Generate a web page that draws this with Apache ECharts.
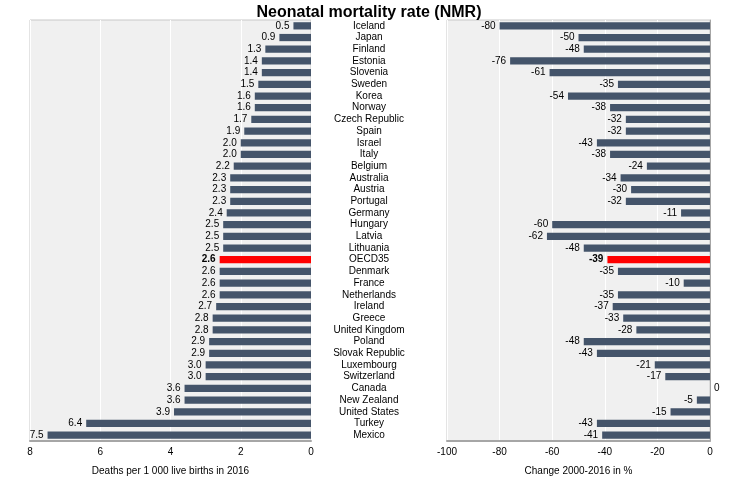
<!DOCTYPE html>
<html>
<head>
<meta charset="utf-8">
<script src="https://cdn.jsdelivr.net/npm/echarts@6/dist/echarts.min.js"></script>
<style>
html, body { margin: 0; padding: 0; background: #fff; }
#chart { width: 738px; height: 486px; }
</style>
</head>
<body>
<div id="chart"></div>
<script>
var countries = ['Iceland','Japan','Finland','Estonia','Slovenia','Sweden','Korea','Norway','Czech Republic','Spain',
	'Israel','Italy','Belgium','Australia','Austria','Portugal','Germany','Hungary','Latvia','Lithuania',
	'OECD35','Denmark','France','Netherlands','Ireland','Greece','United Kingdom','Poland','Slovak Republic','Luxembourg',
	'Switzerland','Canada','New Zealand','United States','Turkey','Mexico'];
var nmr2016 = [0.5,0.9,1.3,1.4,1.4,1.5,1.6,1.6,1.7,1.9,
	2.0,2.0,2.2,2.3,2.3,2.3,2.4,2.5,2.5,2.5,
	2.6,2.6,2.6,2.6,2.7,2.8,2.8,2.9,2.9,3.0,
	3.0,3.6,3.6,3.9,6.4,7.5];
var change2000_2016 = [-80,-50,-48,-76,-61,-35,-54,-38,-32,-32,
	-43,-38,-24,-34,-30,-32,-11,-60,-62,-48,
	-39,-35,-10,-35,-37,-33,-28,-48,-43,-21,
	-17,0,-5,-15,-43,-41];
var highlight = 'OECD35';

var barColor = '#44546a';
var redColor = '#ff0000';
var font = 'Liberation Sans, Arial, sans-serif';

function buildLeft(){
	return nmr2016.map(function(v, i){
		var hl = countries[i] === highlight;
		return {
			value: v,
			itemStyle: { color: hl ? redColor : barColor },
			label: { fontWeight: hl ? 'bold' : 'normal' }
		};
	});
}
function buildRight(){
	return change2000_2016.map(function(v, i){
		var hl = countries[i] === highlight;
		return {
			value: v,
			itemStyle: { color: hl ? redColor : barColor },
			label: { fontWeight: hl ? 'bold' : 'normal', position: v === 0 ? 'right' : 'left' }
		};
	});
}

var chart = echarts.init(document.getElementById('chart'));
var option = {
	animation: false,
	backgroundColor: '#fff',
	textStyle: { fontFamily: font },
	title: {
		text: 'Neonatal mortality rate (NMR)',
		left: 'center',
		top: 0,
		textStyle: { fontSize: 16, fontWeight: 'bold', color: '#000', fontFamily: font }
	},
	grid: [
		{ left: 30, right: 427, top: 20, bottom: 45, show: true, backgroundColor: '#f0f0f0', borderColor: '#c8c8c8', borderWidth: 1 },
		{ left: 447, right: 28, top: 20, bottom: 45, show: true, backgroundColor: '#f0f0f0', borderColor: '#c8c8c8', borderWidth: 1 }
	],
	xAxis: [
		{
			gridIndex: 0, type: 'value', min: 0, max: 8, interval: 2, inverse: true,
			name: 'Deaths per 1 000 live births in 2016', nameLocation: 'middle', nameGap: 25,
			nameTextStyle: { fontSize: 10, color: '#000' },
			axisLine: { show: true, lineStyle: { color: '#a6a6a6', width: 2 } },
			axisTick: { show: false },
			axisLabel: { fontSize: 10, color: '#000', margin: 6 },
			splitLine: { show: true, lineStyle: { color: '#fff', width: 1 } }
		},
		{
			gridIndex: 1, type: 'value', min: -100, max: 0, interval: 20,
			name: 'Change 2000-2016 in %', nameLocation: 'middle', nameGap: 25,
			nameTextStyle: { fontSize: 10, color: '#000' },
			axisLine: { show: true, lineStyle: { color: '#a6a6a6', width: 2 } },
			axisTick: { show: false },
			axisLabel: { fontSize: 10, color: '#000', margin: 6 },
			splitLine: { show: true, lineStyle: { color: '#fff', width: 1 } }
		}
	],
	yAxis: [
		{
			gridIndex: 0, type: 'category', data: countries, inverse: true, position: 'right',
			axisLine: { show: false }, axisTick: { show: false },
			axisLabel: { align: 'center', margin: 58, fontSize: 10, color: '#000', interval: 0 }
		},
		{
			gridIndex: 1, type: 'category', data: countries, inverse: true, position: 'right',
			axisLine: { show: true, lineStyle: { color: '#a6a6a6', width: 1 } }, axisTick: { show: false },
			axisLabel: { show: false }
		}
	],
	series: [
		{
			type: 'bar', xAxisIndex: 0, yAxisIndex: 0, data: buildLeft(), barCategoryGap: '38%',
			label: { show: true, position: 'left', distance: 4, fontSize: 10, color: '#000',
				formatter: function(p){ return p.value.toFixed(1); } }
		},
		{
			type: 'bar', xAxisIndex: 1, yAxisIndex: 1, data: buildRight(), barCategoryGap: '38%',
			label: { show: true, position: 'left', distance: 4, fontSize: 10, color: '#000' }
		}
	]
};
chart.setOption(option);
</script>
</body>
</html>
